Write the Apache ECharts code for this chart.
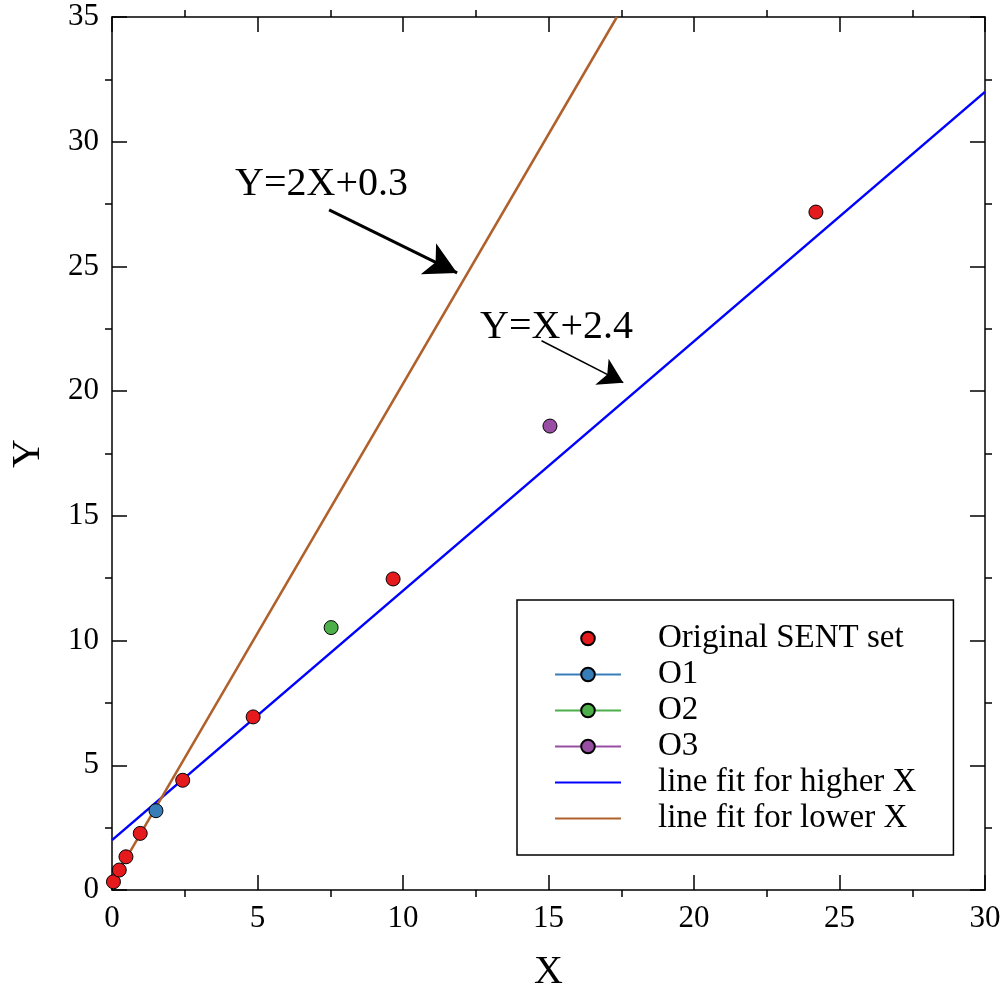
<!DOCTYPE html>
<html>
<head>
<meta charset="utf-8">
<script src="https://cdn.jsdelivr.net/npm/echarts@6/dist/echarts.min.js"></script>
<style>
  html, body { margin: 0; padding: 0; background: #fff; }
  #chart { width: 1005px; height: 993px; }
</style>
</head>
<body>
<div id="chart"></div>
<script>
// data
const origX = [0.05, 0.25, 0.48, 0.97, 2.43, 4.85, 9.66, 24.19]
const origY = [0.33, 0.8, 1.33, 2.27, 4.4, 6.94, 12.47, 27.18]
const o1 = [1.51, 3.18]
const o2 = [7.53, 10.52]
const o3 = [15.05, 18.6]
const highFitX = [0, 30]
const highFitY = [2.0, 32.0]
const lowFitX = [0, 17.35]
const lowFitY = [0.3, 35]

// annotation arrows: [startX, startY, tipX, tipY]
const arrowLow = [7.46, 27.27, 11.86, 24.74]
const arrowHigh = [14.76, 22.02, 17.57, 20.34]
const labelLow = { text: 'Y=2X+0.3', x: 4.23, y: 28.27 }
const labelHigh = { text: 'Y=X+2.4', x: 12.65, y: 22.57 }

const FONT = '"Liberation Serif", "Times New Roman", serif'
const zip = (xs, ys) => xs.map((x, i) => [x, ys[i]])

const chart = echarts.init(document.getElementById('chart'))

const axisCommon = (extra) => Object.assign({
  type: 'value',
  splitLine: { show: false },
  axisLine: { show: true, onZero: false, lineStyle: { color: '#000', width: 1.5 } },
  axisTick: { show: true, inside: true, length: 15, lineStyle: { color: '#000', width: 1.5 } },
  minorTick: { show: true, splitNumber: 2, length: -7, lineStyle: { color: '#000', width: 1.5 } },
  axisLabel: { color: '#000', fontFamily: FONT, fontSize: 31, margin: 13 },
  nameTextStyle: { color: '#000', fontFamily: FONT, fontSize: 40 }
}, extra)

const pointSeries = (name, data, color) => ({
  name,
  type: 'line',
  data,
  symbol: 'circle',
  symbolSize: 14,
  showSymbol: true,
  itemStyle: { color, borderColor: '#000', borderWidth: 1 },
  lineStyle: { color, width: 1.5 },
  z: 5
})

const arrowLine = (a, width, size) => [
  { coord: [a[0], a[1]], symbol: 'none' },
  { coord: [a[2], a[3]], symbol: 'arrow', symbolSize: size, lineStyle: { width } }
]

chart.setOption({
  animation: false,
  backgroundColor: '#fff',
  grid: { left: 112, right: 20, top: 17, bottom: 103, containLabel: false, outerBoundsMode: 'none' },
  xAxis: [
    axisCommon({ min: 0, max: 30, interval: 5, name: 'X', nameLocation: 'middle', nameGap: 62 }),
    axisCommon({ min: 0, max: 30, interval: 5, position: 'top', axisLabel: { show: false } })
  ],
  yAxis: [
    axisCommon({ min: 0, max: 35, interval: 5, name: 'Y', nameLocation: 'middle', nameGap: 64 }),
    axisCommon({ min: 0, max: 35, interval: 5, position: 'right', axisLabel: { show: false } })
  ],
  legend: {
    orient: 'vertical',
    left: 517,
    top: 600,
    padding: [22, 37, 20, 37],
    itemWidth: 66,
    itemHeight: 17,
    itemGap: 3,
    borderColor: '#000',
    borderWidth: 1.5,
    textStyle: { color: '#000', fontFamily: FONT, fontSize: 33, padding: [0, 0, 0, 32] },
    data: [
      'Original SENT set', 'O1', 'O2', 'O3',
      { name: 'line fit for higher X', itemStyle: { opacity: 0 } },
      { name: 'line fit for lower X', itemStyle: { opacity: 0 } }
    ]
  },
  series: [
    {
      name: 'line fit for higher X',
      type: 'line',
      data: zip(highFitX, highFitY),
      symbol: 'none',
      lineStyle: { color: '#0000ff', width: 2.5 },
      itemStyle: { color: '#0000ff' },
      markLine: {
        silent: true,
        label: { show: false },
        lineStyle: { color: '#000', type: 'solid' },
        data: [arrowLine(arrowHigh, 1.5, [22, 24])]
      }
    },
    {
      name: 'line fit for lower X',
      type: 'line',
      data: zip(lowFitX, lowFitY),
      symbol: 'none',
      lineStyle: { color: '#b0602b', width: 2.5 },
      itemStyle: { color: '#b0602b' },
      markLine: {
        silent: true,
        label: { show: false },
        lineStyle: { color: '#000', type: 'solid' },
        data: [arrowLine(arrowLow, 3, [26, 32])]
      }
    },
    Object.assign(pointSeries('Original SENT set', zip(origX, origY), '#e41a1c'), {
      lineStyle: { color: '#e41a1c', width: 1.5, opacity: 0 }
    }),
    pointSeries('O1', [o1], '#377eb8'),
    pointSeries('O2', [o2], '#4daf4a'),
    pointSeries('O3', [o3], '#984ea3')
  ]
})

// place annotation texts at data positions
const labelGraphic = [labelLow, labelHigh].map((l) => {
  const p = chart.convertToPixel({ gridIndex: 0 }, [l.x, l.y])
  return {
    type: 'text',
    x: p[0],
    y: p[1],
    style: { text: l.text, font: '40px ' + FONT, fill: '#000', align: 'left', verticalAlign: 'middle' },
    z: 10
  }
})
chart.setOption({ graphic: labelGraphic })
</script>
</body>
</html>
